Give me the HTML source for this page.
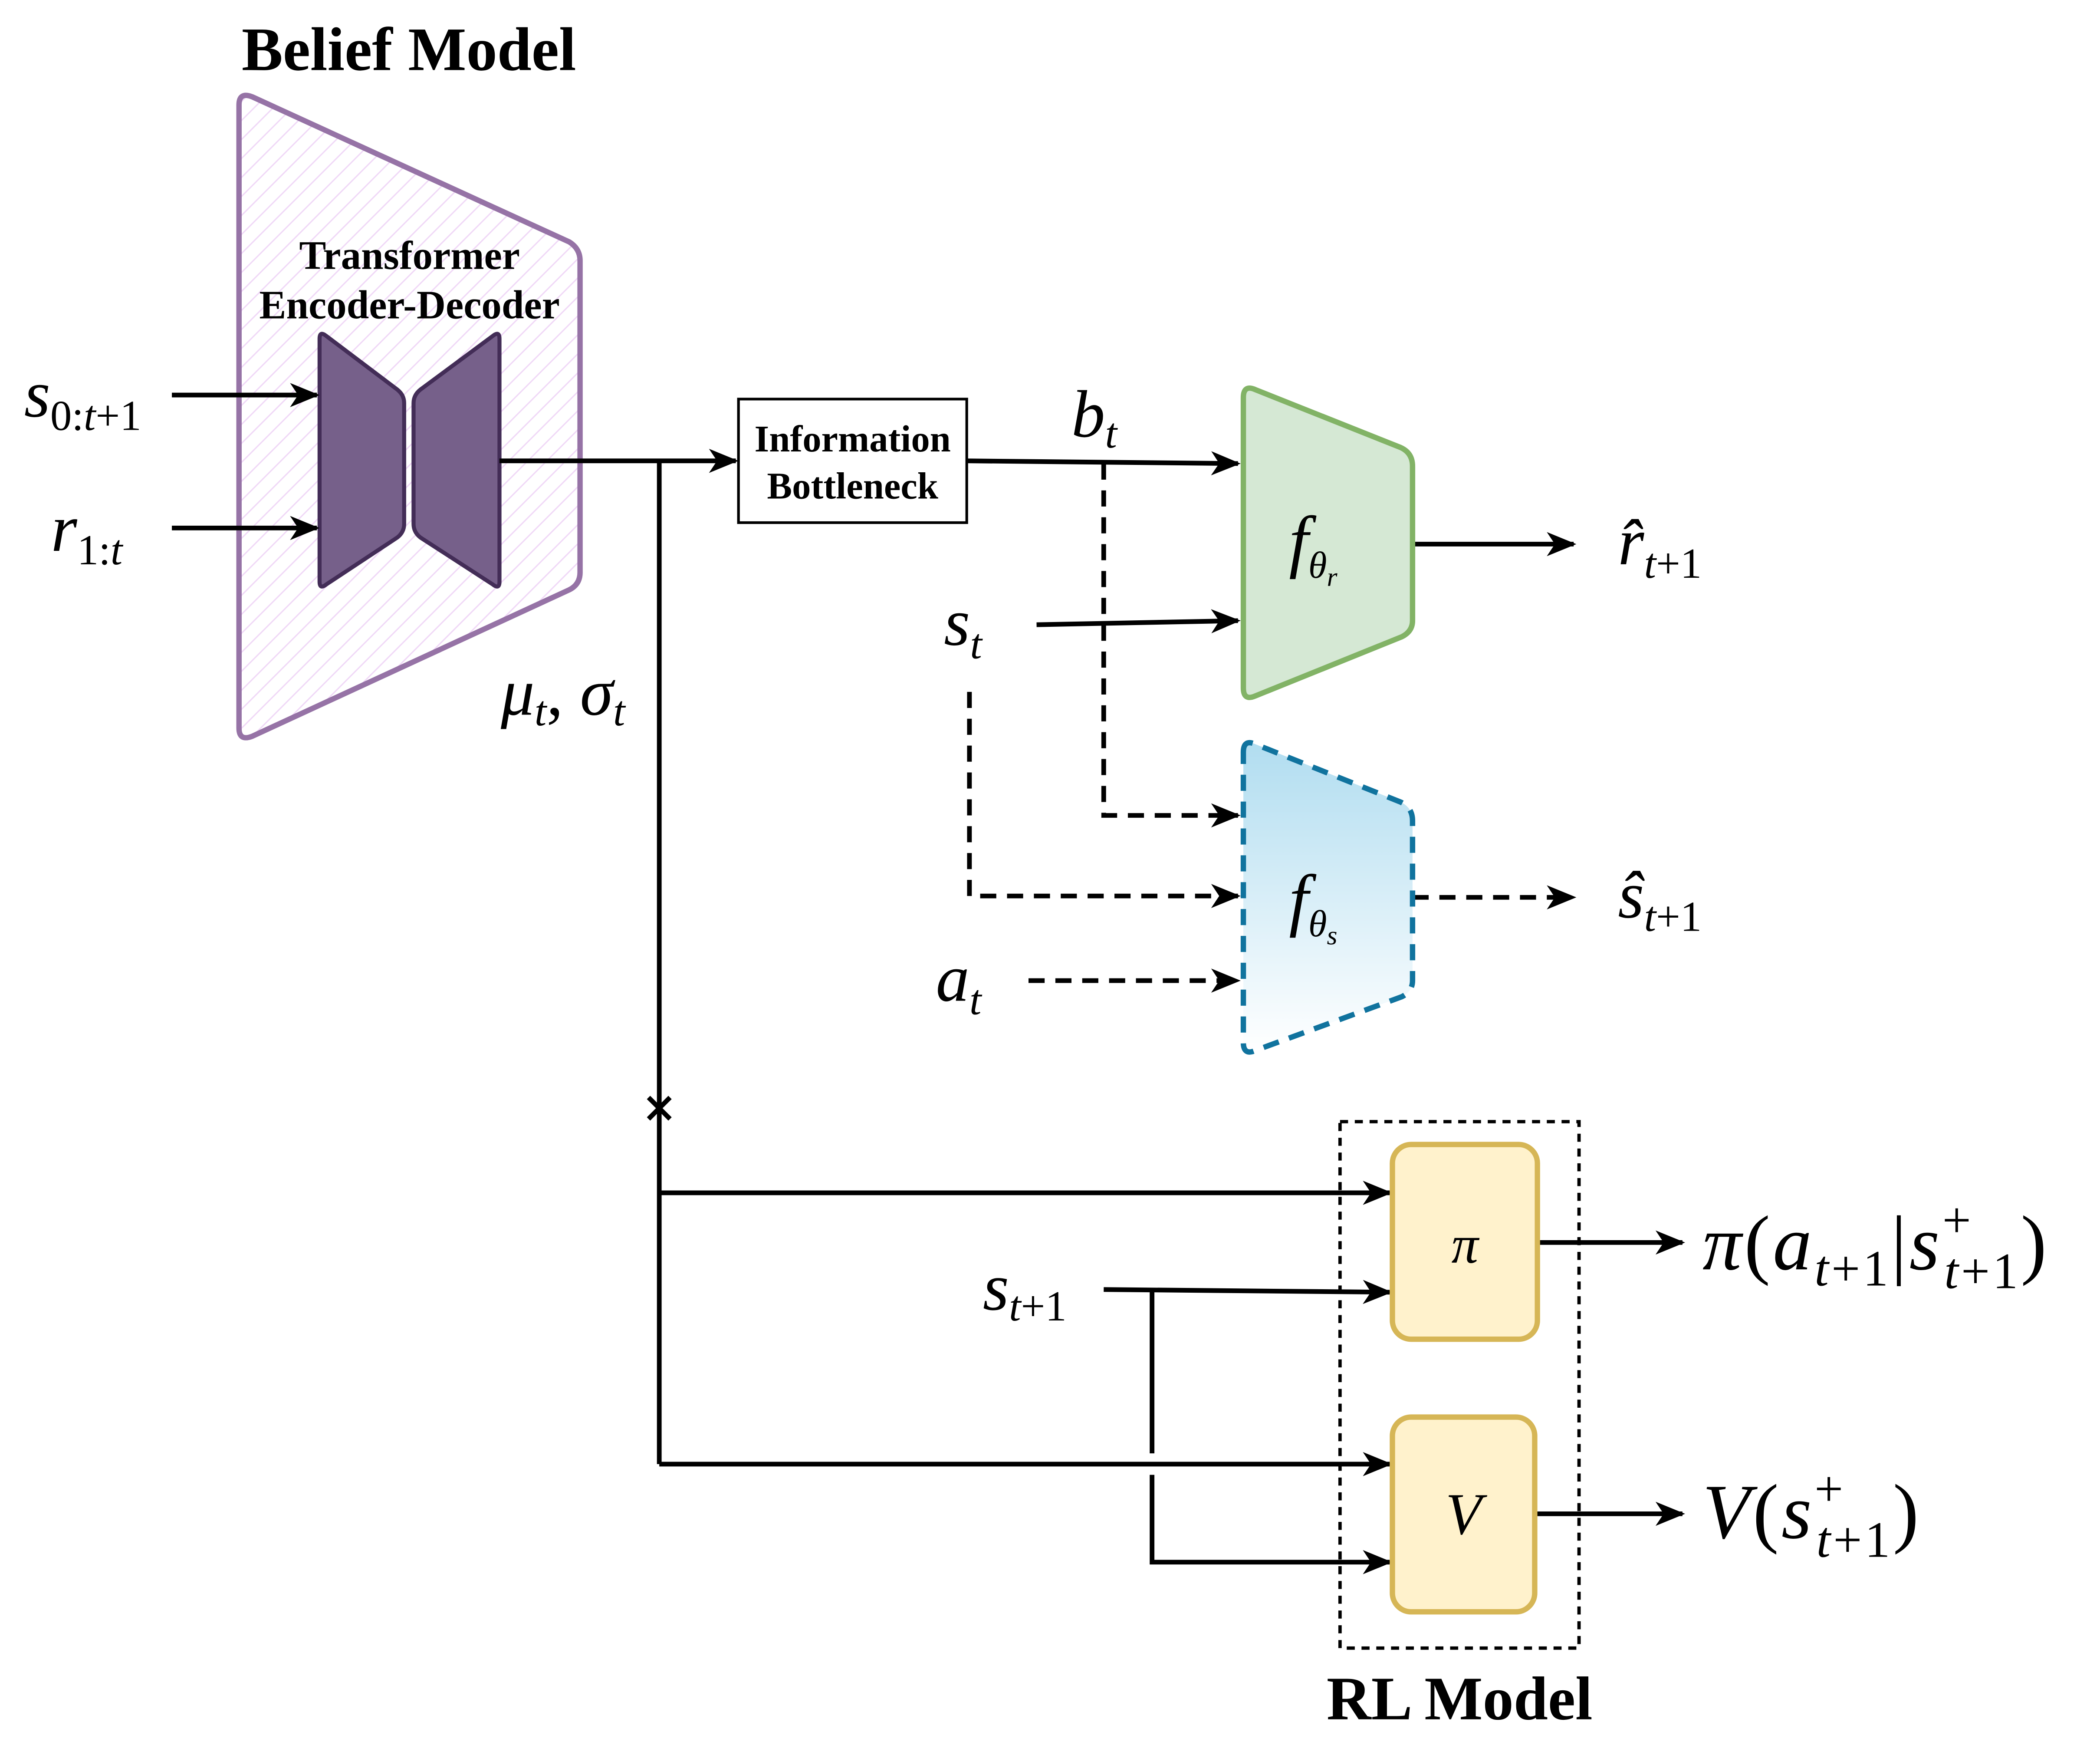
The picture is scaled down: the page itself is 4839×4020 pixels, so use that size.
<!DOCTYPE html>
<html><head><meta charset="utf-8"><style>html,body{margin:0;padding:0;background:#fff}svg{display:block}</style></head>
<body>
<svg xmlns="http://www.w3.org/2000/svg" width="4839" height="4020" viewBox="0 0 1564 1299">
<defs>
<pattern id="hatch" width="10" height="10" patternUnits="userSpaceOnUse" patternTransform="rotate(45)">
<rect width="10" height="10" fill="#fff"/><line x1="0" y1="0" x2="0" y2="10" stroke="#f0d8f7" stroke-width="2"/>
</pattern>
<linearGradient id="blue" x1="0" y1="0" x2="0" y2="1"><stop offset="0" stop-color="#b1ddf0"/><stop offset="1" stop-color="#ffffff"/></linearGradient>
<marker id="arb" markerWidth="22" markerHeight="18" refX="20" refY="9" orient="auto" markerUnits="userSpaceOnUse" viewBox="0 0 22 18">
<path d="M0,0 L22,9 L0,18 L6,9 Z" fill="#000"/></marker>
</defs>
<g font-family="Liberation Serif, serif">
<text x="180" y="52" font-size="46" font-weight="bold">Belief Model</text>
<path d="M178,78 Q178,68 188,72 L424,180 Q432,185 432,194 L432,426 Q432,435 424,439 L188,548 Q178,552 178,542 Z" fill="url(#hatch)" stroke="#9673a6" stroke-width="4"/>
<text x="305" y="200" font-size="30" font-weight="bold" text-anchor="middle">Transformer</text>
<text x="305" y="237" font-size="30" font-weight="bold" text-anchor="middle">Encoder-Decoder</text>
<path d="M238,252 Q238,246 243,250 L296,290 Q301,294 301,300 L301,390 Q301,396 296,400 L243,435 Q238,439 238,433 Z" fill="#76608a" stroke="#432d57" stroke-width="3"/>
<path d="M372,252 Q372,246 367,250 L313,290 Q308,294 308,300 L308,390 Q308,396 313,400 L367,435 Q372,439 372,433 Z" fill="#76608a" stroke="#432d57" stroke-width="3"/>
<g stroke="#000" stroke-width="3.5" fill="none">
<line x1="128" y1="294" x2="236" y2="294" marker-end="url(#arb)"/>
<line x1="128" y1="393" x2="236" y2="393" marker-end="url(#arb)"/>
<line x1="372" y1="343" x2="548" y2="343" marker-end="url(#arb)"/>
<line x1="491" y1="343" x2="491" y2="1090"/>
<line x1="483" y1="817" x2="499" y2="833"/><line x1="499" y1="817" x2="483" y2="833"/>
<line x1="720" y1="343" x2="922" y2="345" marker-end="url(#arb)"/>
<path d="M822,345 L822,607 L922,607" stroke-dasharray="12,8" marker-end="url(#arb)"/>
<line x1="772" y1="465" x2="922" y2="462" marker-end="url(#arb)"/>
<line x1="1052" y1="405" x2="1172" y2="405" marker-end="url(#arb)"/>
<path d="M722,515 L722,667 L922,667" stroke-dasharray="12,8" marker-end="url(#arb)"/>
<line x1="1052" y1="668" x2="1172" y2="668" stroke-dasharray="12,8" marker-end="url(#arb)"/>
<line x1="766" y1="730" x2="922" y2="730" stroke-dasharray="12,8" marker-end="url(#arb)"/>
<line x1="491" y1="888" x2="1035" y2="888" marker-end="url(#arb)"/>
<line x1="822" y1="960" x2="1035" y2="962" marker-end="url(#arb)"/>
<path d="M858,960 L858,1082 M858,1098 L858,1163 L1035,1163" marker-end="url(#arb)"/>
<line x1="491" y1="1090" x2="1035" y2="1090" marker-end="url(#arb)"/>
<line x1="1145" y1="925" x2="1253" y2="925" marker-end="url(#arb)"/>
<line x1="1143" y1="1127" x2="1253" y2="1127" marker-end="url(#arb)"/>
</g>
<rect x="550" y="297" width="170" height="92" fill="#fff" stroke="#000" stroke-width="2"/>
<text x="635" y="336" font-size="28" font-weight="bold" text-anchor="middle">Information</text>
<text x="635" y="371" font-size="28" font-weight="bold" text-anchor="middle">Bottleneck</text>
<path d="M926,296 Q926,286 935,290 L1043,333 Q1052,337 1052,347 L1052,462 Q1052,470 1044,474 L935,518 Q926,522 926,512 Z" fill="#d5e8d4" stroke="#82b366" stroke-width="4"/>
<path d="M926,560 Q926,550 935,554 L1043,597 Q1052,601 1052,611 L1052,730 Q1052,738 1044,742 L935,782 Q926,786 926,776 Z" fill="url(#blue)" stroke="#10739e" stroke-width="4" stroke-dasharray="12,8"/>
<g font-style="italic">
<text x="960" y="420" font-size="52">f<tspan font-size="28" dy="10">θ</tspan><tspan font-size="20" dy="6">r</tspan></text>
<text x="960" y="687" font-size="52">f<tspan font-size="28" dy="10">θ</tspan><tspan font-size="20" dy="6">s</tspan></text>
<text x="18" y="310" font-size="50">s<tspan font-size="32" font-style="normal" dy="10">0:</tspan><tspan font-size="32">t</tspan><tspan font-size="32" font-style="normal">+1</tspan></text>
<text x="38" y="410" font-size="50">r<tspan font-size="32" font-style="normal" dy="10">1:</tspan><tspan font-size="32">t</tspan></text>
<text x="798" y="325" font-size="50">b<tspan font-size="32" dy="8">t</tspan></text>
<text x="703" y="480" font-size="50">s<tspan font-size="32" dy="10">t</tspan></text>
<text x="697" y="745" font-size="50">a<tspan font-size="32" dy="10">t</tspan></text>
<text x="373" y="532" font-size="50">μ<tspan font-size="32" dy="8">t</tspan><tspan font-style="normal" dy="-8">, </tspan>σ<tspan font-size="32" dy="8">t</tspan></text>
<text x="1205" y="420" font-size="50">r̂<tspan font-size="32" dy="10">t</tspan><tspan font-size="32" font-style="normal">+1</tspan></text>
<text x="1205" y="683" font-size="50">ŝ<tspan font-size="32" dy="10">t</tspan><tspan font-size="32" font-style="normal">+1</tspan></text>
<text x="732" y="975" font-size="50">s<tspan font-size="32" dy="8">t</tspan><tspan font-size="32" font-style="normal">+1</tspan></text>
</g>
<rect x="998" y="835" width="178" height="392" fill="none" stroke="#000" stroke-width="2.5" stroke-dasharray="6,5"/>
<rect x="1037" y="852" width="108" height="145" rx="14" fill="#fff2cc" stroke="#d6b656" stroke-width="4"/>
<rect x="1037" y="1055" width="106" height="145" rx="14" fill="#fff2cc" stroke="#d6b656" stroke-width="4"/>
<text x="1091" y="940" font-size="40" font-style="italic" text-anchor="middle">π</text>
<text x="1090" y="1142" font-size="44" font-style="italic" text-anchor="middle">V</text>
<text x="988" y="1280" font-size="46" font-weight="bold">RL Model</text>
<text x="1268" y="945" font-size="58" font-style="italic" letter-spacing="2">π<tspan font-style="normal">(</tspan>a<tspan font-size="38" dy="12">t</tspan><tspan font-size="38" font-style="normal">+1</tspan><tspan font-style="normal" dy="-12">|</tspan>s<tspan font-size="38" font-style="normal" dy="-24">+</tspan><tspan font-size="38" dx="-22" dy="38">t</tspan><tspan font-size="38" font-style="normal">+1</tspan><tspan font-style="normal" dy="-14">)</tspan></text>
<text x="1268" y="1145" font-size="58" font-style="italic" letter-spacing="2">V<tspan font-style="normal">(</tspan>s<tspan font-size="38" font-style="normal" dy="-24">+</tspan><tspan font-size="38" dx="-22" dy="38">t</tspan><tspan font-size="38" font-style="normal">+1</tspan><tspan font-style="normal" dy="-14">)</tspan></text>
</g>
</svg>
</body></html>
